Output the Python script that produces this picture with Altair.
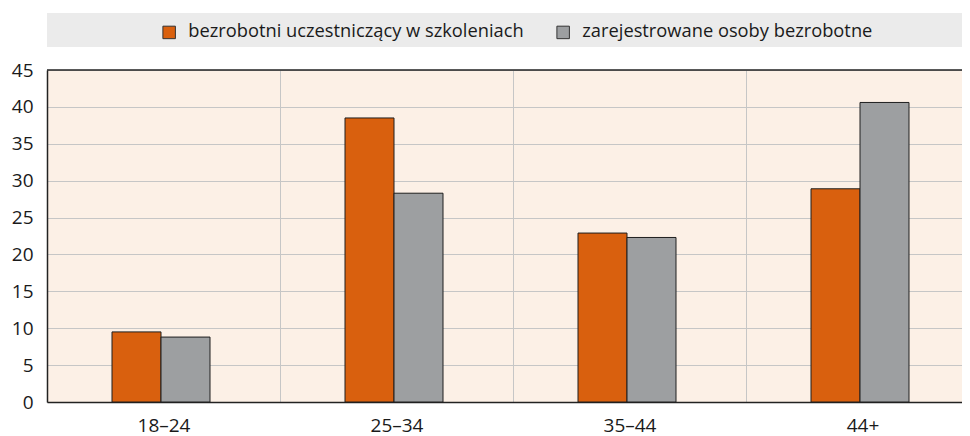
import altair as alt
import pandas as pd

categories = ["18–24", "25–34", "35–44", "44+"]
series = ["bezrobotni uczestniczący w szkoleniach", "zarejestrowane osoby bezrobotne"]
training = [9.5, 38.5, 22.9, 28.9]
registered = [8.8, 28.3, 22.3, 40.6]
colors = ["#d9600e", "#9d9fa1"]
y_ticks = [0, 5, 10, 15, 20, 25, 30, 35, 40, 45]

rows = []
for c, a, b in zip(categories, training, registered):
    rows.append({"cat": c, "series": series[0], "value": a})
    rows.append({"cat": c, "series": series[1], "value": b})
df = pd.DataFrame(rows)

FONT = "Open Sans"
W, H = 915, 332
FS = 19

one = pd.DataFrame({"k": [0]})
bg = alt.Chart(one).mark_rect(color="#ebebeb", clip=False).encode(
    x=alt.value(0), x2=alt.value(W), y=alt.value(-57), y2=alt.value(-23)
)
top_border = alt.Chart(one).mark_rule(color="#222222", strokeWidth=1.5).encode(
    x=alt.value(0), x2=alt.value(W), y=alt.value(0)
)

bars = alt.Chart(df).mark_bar(stroke="#1e1e1e", strokeWidth=1).encode(
    x=alt.X(
        "cat:N", sort=categories,
        scale=alt.Scale(paddingInner=0, paddingOuter=0, range=[0, 932]),
        axis=alt.Axis(title=None, labelAngle=0, tickBand="extent", grid=True, ticks=False,
                      domainColor="#222222", domainWidth=1.5, gridColor="#c6c6c6",
                      labelFont=FONT, labelFontSize=FS, labelPadding=14, labelColor="#1a1a1a"),
    ),
    xOffset=alt.XOffset("series:N", sort=series,
                        scale=alt.Scale(paddingInner=0, paddingOuter=0, range=[65, 163])),
    y=alt.Y(
        "value:Q", scale=alt.Scale(domain=[0, 45], nice=False),
        axis=alt.Axis(title=None, values=y_ticks, ticks=False, grid=True, gridColor="#c6c6c6",
                      domainColor="#222222", domainWidth=1.5,
                      labelFont=FONT, labelFontSize=FS, labelPadding=14, labelColor="#1a1a1a"),
    ),
    color=alt.Color(
        "series:N", sort=series,
        scale=alt.Scale(domain=series, range=colors),
        legend=alt.Legend(title=None, orient="none", direction="horizontal",
                          legendX=113, legendY=-47, padding=0,
                          symbolType="square", symbolSize=156, symbolStrokeColor="#333333",
                          symbolStrokeWidth=1, symbolOpacity=1,
                          labelFont=FONT, labelFontSize=18.3, labelColor="#1a1a1a",
                          labelOffset=10, columnPadding=30, labelLimit=0),
    ),
)

chart = alt.layer(bg, bars, top_border).properties(
    width=W, height=H,
    autosize=alt.AutoSizeParams(type="none"),
    padding={"left": 39, "top": 62, "right": 0, "bottom": 40},
).configure_view(
    fill="#fcf0e6", stroke=None
)

chart.save("out.html", embed_options={"renderer": "svg", "actions": False})
